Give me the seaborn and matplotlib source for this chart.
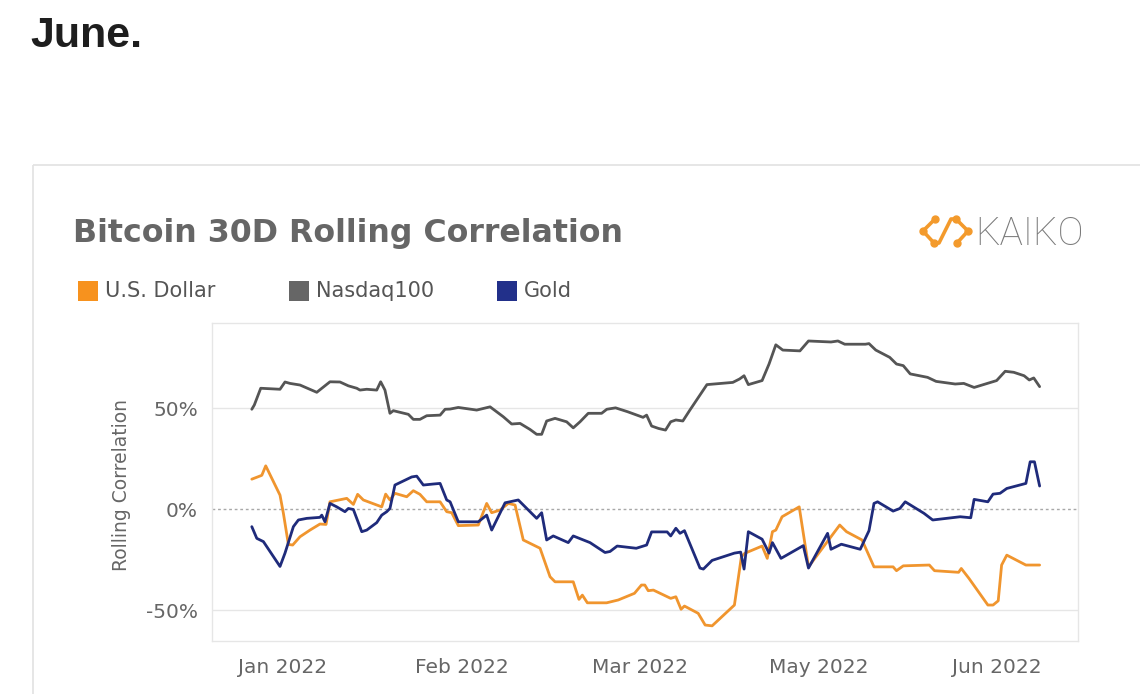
import matplotlib
matplotlib.use("Agg")
import matplotlib.pyplot as plt
import numpy as np
import pandas as pd
import seaborn as sns
from matplotlib.patches import Rectangle
from matplotlib.ticker import FuncFormatter

# ---------------- data (x: position along the axis, ticks every 100 units) -------------
tick_pos = [0, 100, 200, 300, 400]
tick_labels = ["Jan 2022", "Feb 2022", "Mar 2022", "May 2022", "Jun 2022"]

ndx_x = [-17.5, -16.1, -12.5, -1.7, 1.1, 3.9, 9.5, 18.9, 26.3, 31.9, 36.6, 41.3, 43.1, 46.9,
         52.5, 54.7, 57.1, 59.9, 61.8, 65.5, 70.2, 73.0, 76.7, 80.5, 88.0, 90.8, 93.6, 98.2,
         108.5, 116.0, 123.4, 128.1, 132.8, 138.4, 142.1, 144.9, 147.7, 152.4, 158.9, 162.6,
         166.4, 171.0, 173.8, 178.5, 181.4, 186.3, 193.0, 201.7, 203.7, 206.5, 210.4, 214.3,
         217.2, 220.1, 224.0, 227.8, 237.5, 252.0, 255.8, 258.3, 260.7, 268.4, 272.3, 276.1,
         280.0, 289.6, 294.4, 307.0, 310.9, 314.7, 326.3, 328.3, 332.1, 339.9, 343.7, 347.5,
         351.4, 361.1, 365.9, 376.6, 381.4, 387.2, 399.8, 404.6, 409.4, 415.2, 418.1, 420.6,
         423.9]
ndx_y = [49.4, 51.5, 59.8, 59.3, 62.9, 62.2, 61.4, 57.8, 63.0, 62.9, 61.0, 59.8, 58.9, 59.3,
         58.9, 63.0, 58.9, 47.4, 48.7, 47.9, 46.9, 44.4, 44.4, 46.2, 46.5, 49.4, 49.5, 50.3,
         49.0, 50.6, 45.7, 42.1, 42.4, 39.4, 37.0, 37.0, 43.6, 44.9, 43.2, 40.2,
         43.2, 47.4, 47.4, 47.4, 49.4, 50.1, 48.2, 45.4, 46.5, 41.1, 39.9, 39.1,
         43.2, 44.1, 43.6, 48.8, 61.6, 62.7, 64.4, 66.0, 61.6, 63.6, 71.8, 81.3,
         78.7, 78.3, 83.2, 82.7, 83.2, 81.6, 81.6, 81.9, 78.7, 75.1, 71.8, 71.0,
         66.9, 65.2, 63.2, 61.9, 62.2, 60.2, 63.6, 68.2, 67.7, 66.0, 63.9, 64.9,
         60.6]

usd_x = [-17.5, -11.9, -9.7, -1.7, 0.2, 3.0, 5.4, 9.5, 15.1, 20.7, 24.1, 26.3, 35.7, 39.4,
         41.8, 45.0, 55.3, 57.5, 59.9, 62.7, 69.3, 73.0, 76.7, 80.5, 88.0, 91.7, 94.5, 98.2,
         109.4, 114.1, 116.9, 121.6, 126.2, 130.0, 134.6, 144.0, 149.6, 152.4, 162.6, 165.8,
         167.7, 170.5, 181.3, 187.8, 196.9, 200.8, 202.7, 204.6, 207.5, 217.2, 220.1, 223.0,
         224.9, 232.6, 236.5, 240.4, 252.9, 256.8, 258.7, 268.4, 271.3, 274.2, 276.1, 279.6,
         289.2, 294.4, 311.9, 315.7, 324.4, 331.1, 341.8, 343.7, 347.5, 362.1, 365.0, 378.5,
         380.0, 384.3, 394.9, 397.8, 400.7, 402.6, 405.5, 416.2, 423.9]
usd_y = [14.8, 16.7, 21.4, 6.9, -2.1, -17.5, -17.8, -13.7, -10.4, -7.4, -7.6, 3.6, 5.3, 2.3,
         7.3, 4.5, 1.1, 7.4, 4.5, 7.8, 6.1, 9.1, 7.3, 3.6, 3.6, -1.3, -1.8, -8.2,
         -7.9, 2.8, -1.8, -0.5, 2.8, 2.0, -15.3, -19.4, -33.5, -36.0, -36.0, -44.7,
         -42.6, -46.4, -46.4, -45.0, -41.7, -37.6, -37.6, -40.4, -40.1, -44.2, -43.4, -49.6,
         -48.0, -51.6, -57.4, -57.8, -47.5, -23.6, -21.9, -18.3, -24.4, -11.2, -10.4, -3.8,
         1.1, -28.6, -7.9, -11.2, -15.3, -28.6, -28.6, -30.5, -28.1, -27.7, -30.5, -31.3,
         -29.4, -34.3, -47.5, -47.5, -45.4, -27.7, -22.8, -27.7, -27.7]

gold_x = [-17.5, -14.7, -11.0, -1.7, 1.1, 5.8, 8.6, 13.3, 20.7, 21.7, 23.5, 26.3, 30.1, 34.7,
          36.6, 39.4, 44.1, 46.9, 52.5, 55.3, 58.1, 59.9, 62.7, 72.1, 74.9, 78.6, 84.2, 88.0,
          91.7, 93.6, 98.2, 109.4, 114.1, 116.9, 124.4, 131.8, 142.1, 144.9, 147.7, 151.4,
          159.8, 162.6, 172.0, 180.4, 183.2, 187.2, 197.9, 203.7, 206.5, 215.2, 217.2, 220.1,
          222.4, 224.9, 233.6, 235.5, 240.4, 252.9, 256.4, 258.3, 260.7, 268.4, 272.3, 274.2,
          279.0, 291.5, 294.4, 305.1, 307.0, 312.8, 323.4, 328.3, 331.1, 333.1, 341.8, 345.6,
          348.6, 359.1, 364.0, 379.4, 385.3, 387.2, 394.9, 397.8, 401.7, 405.5, 416.2, 418.6,
          421.0, 423.9]
gold_y = [-8.7, -14.5, -16.1, -28.4, -21.8, -8.7, -5.4, -4.6, -4.1, -3.0, -6.3, 2.8, 1.1, -1.3,
          0.3, -0.2, -11.2, -10.4, -6.7, -3.0, -1.3, 0.3, 11.9, 15.9, 16.3, 11.9, 12.4, 12.7,
          4.5, 3.6, -6.3, -6.3, -3.0, -10.4, 3.1, 4.5, -4.6, -1.8, -15.3, -13.3,
          -16.6, -13.3, -16.6, -21.5, -21.0, -18.3, -19.4, -17.8, -11.3, -11.3, -13.3, -9.5,
          -12.0, -10.7, -29.2, -29.7, -25.4, -21.8, -21.3, -29.7, -11.2, -14.9, -21.8, -16.6,
          -24.4, -18.1, -29.2, -12.0, -19.9, -17.4, -19.9, -10.7, 2.8, 3.6, -1.0, 0.3,
          3.6, -2.1, -5.4, -3.8, -4.3, 4.8, 3.6, 7.4, 7.8, 10.2, 12.7, 23.4,
          23.4, 11.4]

series_names = ["U.S. Dollar", "Nasdaq100", "Gold"]
line_colors = ["#f0952e", "#555555", "#1f2b7b"]
legend_colors = ["#f7921e", "#666666", "#22308a"]

df = pd.concat([
    pd.DataFrame({"x": usd_x, "value": usd_y, "series": series_names[0]}),
    pd.DataFrame({"x": ndx_x, "value": ndx_y, "series": series_names[1]}),
    pd.DataFrame({"x": gold_x, "value": gold_y, "series": series_names[2]}),
], ignore_index=True)

# ---------------- figure ----------------
sns.set_theme(style="white")
plt.rcParams["font.family"] = ["DejaVu Sans"]

W, H = 1140, 694
fig = plt.figure(figsize=(W / 100, H / 100), dpi=100)
fig.patch.set_facecolor("white")

# page overlay in pixel coordinates
bg = fig.add_axes([0, 0, 1, 1], zorder=-1)
bg.set_xlim(0, W)
bg.set_ylim(H, 0)
bg.axis("off")

bg.text(30, 47, "June.", fontsize=31, fontweight="bold", family=["Liberation Sans", "DejaVu Sans"],
        color="#1e1e1e", va="baseline", ha="left")
bg.add_patch(Rectangle((33, 165), 1200, 700, fill=False, edgecolor="#e2e2e2", lw=1.2))
bg.text(73, 242, "Bitcoin 30D Rolling Correlation", fontsize=22.8, fontweight="bold",
        color="#666666", va="baseline", ha="left")

# logo
logo_pts = [(935, 219), (923, 231), (934, 243), (939, 243), (951, 219), (956, 219), (968, 231), (957, 243)]
lx, ly = zip(*logo_pts)
bg.plot(lx, ly, color="#f39a2c", lw=2.6, solid_joinstyle="round", solid_capstyle="round")
nodes = [(935, 219), (923, 231), (934, 243), (956, 219), (968, 231), (957, 243)]
nx, ny = zip(*nodes)
bg.plot(nx, ny, "o", color="#f39a2c", ms=5)
bg.text(975, 245, "KAIKO", fontsize=28, family=["Roboto", "DejaVu Sans"], fontweight="light",
        color="#7a7a7a", va="baseline", ha="left")

# legend
leg_x = [78, 289, 497]
for name, col, x0 in zip(series_names, legend_colors, leg_x):
    bg.add_patch(Rectangle((x0, 281), 20, 20, facecolor=col, edgecolor="none"))
    bg.text(x0 + 27, 291, name, fontsize=15, color="#555555", va="center", ha="left")

# main plot
ax = fig.add_axes([212 / W, (H - 641) / H, (1078 - 212) / W, (641 - 323) / H])
sns.lineplot(data=df, x="x", y="value", hue="series", palette=dict(zip(series_names, line_colors)),
             hue_order=series_names, estimator=None, sort=False, legend=False, linewidth=2.0, ax=ax)

ax.set_xlim(-39.8, 445.4)
ax.set_ylim(-65.3, 92.1)
ax.axhline(50, color="#e6e6e6", lw=1, zorder=0)
ax.axhline(-50, color="#e6e6e6", lw=1, zorder=0)
ax.axhline(0, color="#a8a8a8", lw=1, ls=(0, (2, 2)), zorder=0)

ax.set_yticks([-50, 0, 50])
ax.yaxis.set_major_formatter(FuncFormatter(lambda v, p: f"{v:.0f}%"))
ax.set_xticks(tick_pos)
ax.set_xticklabels(tick_labels)
ax.tick_params(axis="y", length=0, pad=10, labelsize=14.5, labelcolor="#666666")
ax.tick_params(axis="x", length=4, width=1, color="#e0e0e0", direction="out", pad=8,
               labelsize=14.5, labelcolor="#666666")
ax.set_xlabel("")
ax.set_ylabel("Rolling Correlation", fontsize=13.5, color="#666666")
ax.yaxis.set_label_coords(-0.093, 0.49)
for s in ax.spines.values():
    s.set_color("#e6e6e6")
    s.set_linewidth(1)
ax.set_facecolor("white")

fig.savefig("out.png", dpi=100, facecolor="white")
